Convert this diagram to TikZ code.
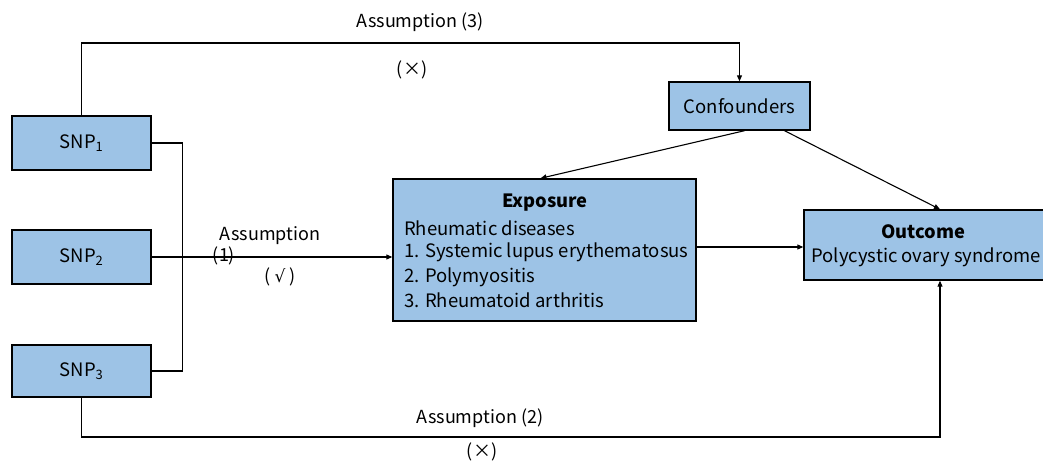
\documentclass[tikz,border=0pt]{standalone}
\usepackage{fontspec}
\setmainfont{Noto Sans CJK SC}
\newfontfamily\symfont{DejaVu Sans}
\usetikzlibrary{arrows.meta}
\definecolor{boxblue}{RGB}{157,195,230}
\begin{document}
\begin{tikzpicture}[x=1pt,y=-1pt,
  box/.style={draw=black, line width=1.4pt, fill=boxblue, inner sep=0pt},
  conn/.style={line width=1.1pt},
  arr/.style={conn, -{Triangle[length=6pt,width=5pt]}},
  lbl/.style={font=\fontsize{18}{21}\selectfont, inner sep=0pt},
  txt/.style={font=\fontsize{18.5}{22}\selectfont, inner sep=0pt},
  ttl/.style={font=\fontsize{18.3}{22}\selectfont\bfseries, inner sep=0pt}]
\useasboundingbox (0,0) rectangle (1043,461);
% boxes
\node[box, minimum width=139pt, minimum height=54pt, txt] (snp1) at (81.5,143) {SNP\textsubscript{1}};
\node[box, minimum width=139pt, minimum height=54pt, txt] (snp2) at (81.5,257) {SNP\textsubscript{2}};
\node[box, minimum width=139pt, minimum height=52pt, txt] (snp3) at (81.5,371) {SNP\textsubscript{3}};
\node[box, minimum width=141pt, minimum height=48pt, txt] (conf) at (739.5,106) {Confounders};
\node[box, minimum width=303pt, minimum height=142pt] (exp) at (544.5,250) {};
\node[box, minimum width=272pt, minimum height=70pt] (out) at (940,245) {};
% box texts
\node[ttl] (expt) at (545,203) {Exposure};
\node[txt, anchor=west] (e0) at (404,228) {Rheumatic diseases};
\node[txt, anchor=west] (e1) at (404,252) {1. Systemic lupus erythematosus};
\node[txt, anchor=west] (e2) at (404,277) {2. Polymyositis};
\node[txt, anchor=west] (e3) at (404,300) {3. Rheumatoid arthritis};
\node[ttl] (outt) at (923,232) {Outcome};
\node[txt] (outd) at (926,257) {Polycystic ovary syndrome};
% connectors
\coordinate (top) at (0,43);
\coordinate (bot) at (0,437);
\draw[conn] (snp1.east) -- ++(31,0) |- (snp3.east);
\draw[arr] (snp2.east) -- (snp2.east -| exp.west);
\draw[arr] (snp1.north) -- (snp1.north |- top) -| (conf.north);
\draw[arr] ([xshift=5pt]conf.south) -- ([xshift=-4pt]exp.north);
\draw[arr] ([xshift=45pt]conf.south) -- (out.north);
\draw[arr] ([yshift=3pt]exp.east) -- ([yshift=3pt]exp.east -| out.west);
\draw[arr] (snp3.south) |- (bot -| out.south) -- (out.south);
% labels
\node[lbl] (a3) at (420,22) {Assumption (3)};
\node[lbl] (x3) at (412,70) {(×)};
\node[lbl] (a1) at (270,236) {Assumption};
\node[lbl] (n1) at (224,256) {(1)};
\node[lbl] (v1) at (280,277) {( {\symfont\fontsize{17}{19}\selectfont √} )};
\node[lbl] (a2) at (480,418) {Assumption (2)};
\node[lbl] (x2) at (482,452) {(×)};
\end{tikzpicture}
\end{document}
